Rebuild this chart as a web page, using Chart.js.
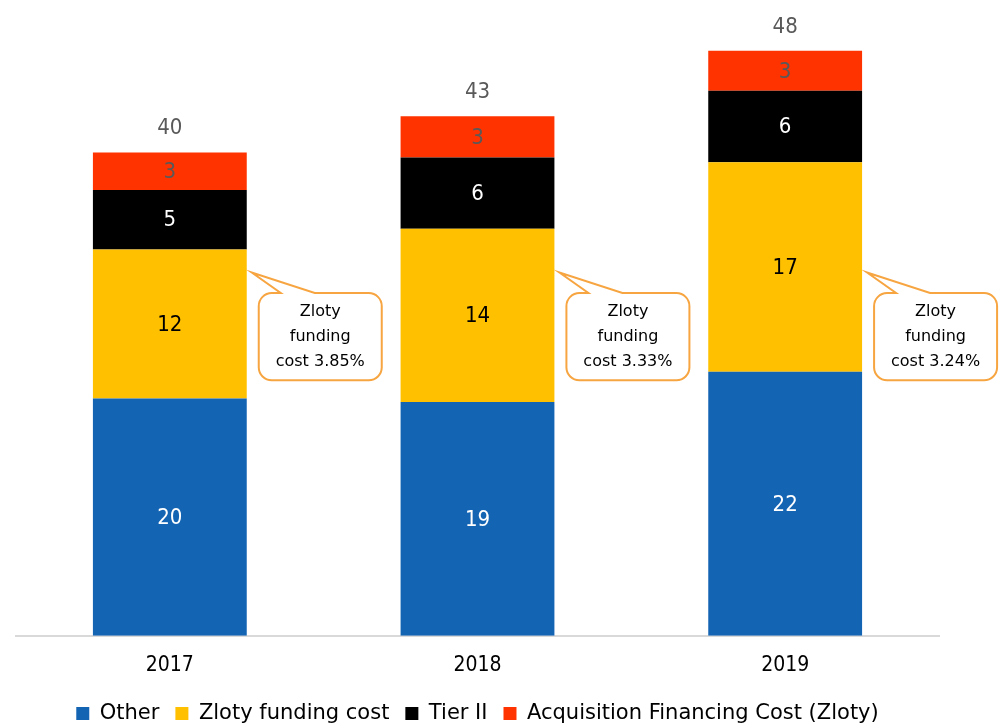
<!DOCTYPE html>
<html>
<head>
<meta charset="utf-8">
<script src="https://cdn.jsdelivr.net/npm/chart.js@4.4.0/dist/chart.umd.min.js"></script>
<style>
  html, body { margin: 0; padding: 0; background: #fff; }
  #wrap { width: 1000px; height: 723px; }
</style>
</head>
<body>
<div id="wrap"><canvas id="chartFunding"></canvas></div>
<script>
// data
const years = ['2017', '2018', '2019'];
const other = [19.6, 19.3, 21.8];
const zlotyFunding = [12.3, 14.3, 17.3];
const tierII = [4.9, 5.9, 5.9];
const acquisition = [3.1, 3.4, 3.3];
const fundingCostNotes = ['3.85%', '3.33%', '3.24%'];

const FONT = '"DejaVu Sans", sans-serif';
const NUM_FONT = '"DejaVu Sans Condensed", "DejaVu Sans", sans-serif';
const labelColors = ['#ffffff', '#000000', '#ffffff', '#595959'];

// value labels inside every segment + total above each bar
const segmentLabels = {
    id: 'segmentLabels',
    afterDatasetsDraw(chart) {
        const ctx = chart.ctx;
        ctx.save();
        ctx.textAlign = 'center';
        ctx.textBaseline = 'middle';
        ctx.font = '22px ' + NUM_FONT;
        chart.data.datasets.forEach(function(ds, di) {
            const meta = chart.getDatasetMeta(di);
            meta.data.forEach(function(bar, i) {
                ctx.fillStyle = labelColors[di];
                ctx.fillText(Math.round(ds.data[i]), bar.x, (bar.y + bar.base) / 2 + 1);
            });
        });
        const last = chart.getDatasetMeta(chart.data.datasets.length - 1);
        ctx.fillStyle = '#595959';
        last.data.forEach(function(bar, i) {
            let total = 0;
            chart.data.datasets.forEach(function(ds) { total += ds.data[i]; });
            ctx.fillText(Math.round(total), bar.x, bar.y - 24);
        });
        ctx.restore();
    }
};

// speech-bubble notes next to the yellow segment
const callouts = {
    id: 'callouts',
    afterDatasetsDraw(chart) {
        const ctx = chart.ctx;
        const y = chart.scales.y;
        const meta = chart.getDatasetMeta(1);
        const tipY = y.getPixelForValue(30);
        const top = y.getPixelForValue(28.3);
        const bottom = y.getPixelForValue(21.1);
        const w = 123, r = 13;
        ctx.save();
        meta.data.forEach(function(bar, i) {
            const right = bar.x + bar.width / 2;
            const left = right + 12;
            const tipX = right + 5;
            const b1 = left + 22, b2 = left + 56;
            ctx.beginPath();
            ctx.moveTo(left + r, top);
            ctx.lineTo(b1, top);
            ctx.lineTo(tipX, tipY);
            ctx.lineTo(b2, top);
            ctx.lineTo(left + w - r, top);
            ctx.arcTo(left + w, top, left + w, top + r, r);
            ctx.lineTo(left + w, bottom - r);
            ctx.arcTo(left + w, bottom, left + w - r, bottom, r);
            ctx.lineTo(left + r, bottom);
            ctx.arcTo(left, bottom, left, bottom - r, r);
            ctx.lineTo(left, top + r);
            ctx.arcTo(left, top, left + r, top, r);
            ctx.closePath();
            ctx.fillStyle = '#ffffff';
            ctx.fill();
            ctx.strokeStyle = '#F7A541';
            ctx.lineWidth = 2;
            ctx.stroke();

            ctx.fillStyle = '#000000';
            ctx.font = '16px ' + FONT;
            ctx.textAlign = 'center';
            ctx.textBaseline = 'middle';
            const cx = left + w / 2;
            const midY = (top + bottom) / 2;
            ctx.fillText('Zloty', cx, midY - 25);
            ctx.fillText('funding', cx, midY);
            ctx.fillText('cost ' + fundingCostNotes[i], cx, midY + 25);
        });
        ctx.restore();
    }
};

const ctx = document.getElementById('chartFunding').getContext('2d');
new Chart(ctx, {
    type: 'bar',
    data: {
        labels: years,
        datasets: [
            { label: 'Other', data: other, backgroundColor: '#1464B4' },
            { label: 'Zloty funding cost', data: zlotyFunding, backgroundColor: '#FFC000' },
            { label: 'Tier II', data: tierII, backgroundColor: '#000000' },
            { label: 'Acquisition Financing Cost (Zloty)', data: acquisition, backgroundColor: '#FF3300' }
        ]
    },
    options: {
        responsive: true,
        maintainAspectRatio: false,
        animation: false,
        layout: { padding: { left: 16, right: 61, top: 6, bottom: -11 } },
        datasets: {
            bar: { categoryPercentage: 0.5, barPercentage: 1.0, borderWidth: 0 }
        },
        plugins: {
            legend: {
                position: 'bottom',
                labels: {
                    boxWidth: 13,
                    boxHeight: 13,
                    padding: 16,
                    color: '#000',
                    font: { size: 21, family: FONT }
                }
            },
            tooltip: { enabled: false }
        },
        scales: {
            x: {
                stacked: true,
                grid: { display: false },
                border: { color: '#D9D9D9', width: 2 },
                ticks: { color: '#000', padding: 9, font: { size: 21, family: NUM_FONT } }
            },
            y: {
                stacked: true,
                display: false,
                min: 0,
                max: 52
            }
        }
    },
    plugins: [segmentLabels, callouts]
});
</script>
</body>
</html>
